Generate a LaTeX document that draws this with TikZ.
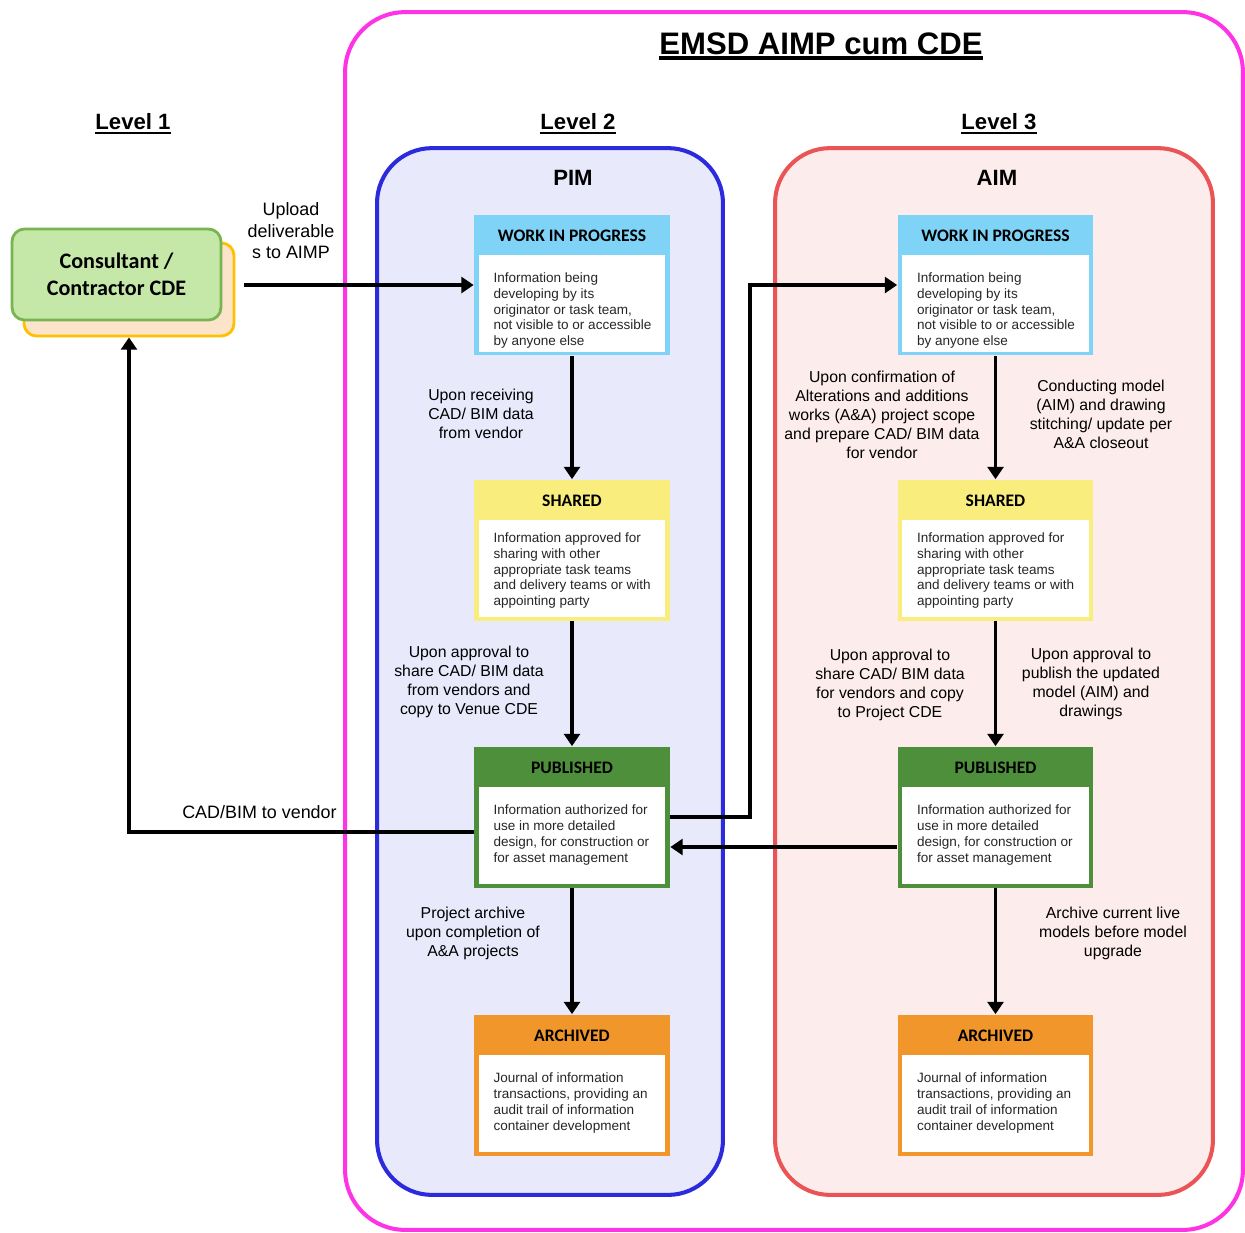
\documentclass[tikz,border=0pt]{standalone}
\usepackage{fontspec}
\setmainfont{Liberation Sans}
\newfontfamily\calibri{Carlito}
\usetikzlibrary{arrows.meta}

\definecolor{aimpline}{RGB}{255,51,230}
\definecolor{pimline}{RGB}{43,43,221}
\definecolor{pimfill}{RGB}{232,234,252}
\definecolor{aimline}{RGB}{234,84,85}
\definecolor{aimfill}{RGB}{253,236,236}
\definecolor{wipc}{RGB}{126,211,247}
\definecolor{sharedc}{RGB}{249,238,125}
\definecolor{pubc}{RGB}{78,143,60}
\definecolor{archc}{RGB}{240,150,42}
\definecolor{cdefill}{RGB}{197,232,168}
\definecolor{cdeline}{RGB}{120,180,80}
\definecolor{backfill}{RGB}{252,228,202}
\definecolor{backline}{RGB}{255,192,0}

\newcommand{\undertitle}[3]{\setbox0=\hbox{#1}\rlap{\copy0}\rule[-#2]{\wd0}{#3}}
\newcommand{\wiptext}{Information being\\developing by its\\originator or task team,\\not visible to or accessible\\by anyone else}
\newcommand{\sharedtext}{Information approved for\\sharing with other\\appropriate task teams\\and delivery teams or with\\appointing party}
\newcommand{\pubtext}{Information authorized for\\use in more detailed\\design, for construction or\\for asset management}
\newcommand{\archtext}{Journal of information\\transactions, providing an\\audit trail of information\\container development}

\begin{document}
\begin{tikzpicture}[x=0.02cm,y=-0.02cm,
    zone/.style={line width=2.3pt,rounded corners=1.1cm,inner sep=0pt},
    stage/.style={minimum width=3.92cm,minimum height=2.82cm,inner sep=0pt},
    stagebody/.style={fill=white,minimum width=3.74cm,minimum height=1.94cm,inner sep=0pt},
    stagetitle/.style={font=\calibri\bfseries\fontsize{10}{12}\selectfont},
    stagetext/.style={anchor=west,align=left,inner sep=0pt,text=black!85,font=\fontsize{7.7}{9.1}\selectfont},
    note/.style={align=center,inner sep=0pt,font=\fontsize{9}{10.8}\selectfont},
    bignote/.style={align=center,inner sep=0pt,font=\fontsize{10.2}{12.2}\selectfont},
    level/.style={font=\bfseries\fontsize{12.6}{14}\selectfont},
    flow/.style={line width=2.2pt,-{Triangle[width=9pt,length=7pt]}}]
    \useasboundingbox (0,0) rectangle (1245,1232);

    \node[zone,draw=aimpline,rounded corners=1.2cm,minimum width=17.96cm,minimum height=24.36cm] (aimp) at (794,621) {};
    \node[zone,draw=pimline,fill=pimfill,minimum width=6.92cm,minimum height=20.94cm] (pim) at (550,671.5) {};
    \node[zone,draw=aimline,fill=aimfill,minimum width=8.76cm,minimum height=20.94cm] (aim) at (994,671.5) {};

    \node[font=\bfseries\fontsize{17.7}{20}\selectfont] (title) at (821,46) {\undertitle{EMSD AIMP cum CDE}{3pt}{1.8pt}};
    \node[level] (lv1) at (133,124) {\undertitle{Level 1}{2.5pt}{1.3pt}};
    \node[level] (lv2) at (578,124) {\undertitle{Level 2}{2.5pt}{1.3pt}};
    \node[level] (lv3) at (999,124) {\undertitle{Level 3}{2.5pt}{1.3pt}};
    \node[level] (pimt) at (573,178) {PIM};
    \node[level] (aimt) at (997,178) {AIM};

    \node[draw=backline,fill=backfill,line width=1.6pt,rounded corners=0.25cm,minimum width=4.2cm,minimum height=1.86cm] (cb) at (129,289.5) {};
    \node[draw=cdeline,fill=cdefill,line width=1.6pt,rounded corners=0.25cm,minimum width=4.18cm,minimum height=1.82cm,align=center,
        font=\calibri\bfseries\fontsize{12.6}{15.4}\selectfont] (cde) at (116.5,274.5) {Consultant /\\Contractor CDE};

    % PIM column
    \node[stage,fill=wipc] (pw) at (572,285) {};
    \node[stagetitle] (pwh) at (572,236) {WORK IN PROGRESS};
    \node[stagebody] (pwb) at (572,303) {};
    \node[stagetext] (pwt) at ([xshift=0.3cm,yshift=-0.15cm]pwb.west) {\wiptext};

    \node[stage,fill=sharedc] (ps) at (572,550) {};
    \node[stagetitle] (psh) at (572,501) {SHARED};
    \node[stagebody] (psb) at (572,568) {};
    \node[stagetext] (pst) at ([xshift=0.3cm,yshift=-0.05cm]psb.west) {\sharedtext};

    \node[stage,fill=pubc] (pp) at (572,817) {};
    \node[stagetitle] (pph) at (572,768) {PUBLISHED};
    \node[stagebody] (ppb) at (572,835) {};
    \node[stagetext] (ppt) at ([xshift=0.3cm]ppb.west) {\pubtext};

    \node[stage,fill=archc] (pa) at (572,1085) {};
    \node[stagetitle] (pah) at (572,1036) {ARCHIVED};
    \node[stagebody] (pab) at (572,1103) {};
    \node[stagetext] (pat) at ([xshift=0.3cm]pab.west) {\archtext};

    % AIM column
    \node[stage,fill=wipc] (aw) at (995.5,285) {};
    \node[stagetitle] (awh) at (995.5,236) {WORK IN PROGRESS};
    \node[stagebody] (awb) at (995.5,303) {};
    \node[stagetext] (awt) at ([xshift=0.3cm,yshift=-0.15cm]awb.west) {\wiptext};

    \node[stage,fill=sharedc] (as) at (995.5,550) {};
    \node[stagetitle] (ash) at (995.5,501) {SHARED};
    \node[stagebody] (asb) at (995.5,568) {};
    \node[stagetext] (ast) at ([xshift=0.3cm,yshift=-0.05cm]asb.west) {\sharedtext};

    \node[stage,fill=pubc] (ap) at (995.5,817) {};
    \node[stagetitle] (aph) at (995.5,768) {PUBLISHED};
    \node[stagebody] (apb) at (995.5,835) {};
    \node[stagetext] (apt) at ([xshift=0.3cm]apb.west) {\pubtext};

    \node[stage,fill=archc] (aa) at (995.5,1085) {};
    \node[stagetitle] (aah) at (995.5,1036) {ARCHIVED};
    \node[stagebody] (aab) at (995.5,1103) {};
    \node[stagetext] (aat) at ([xshift=0.3cm]aab.west) {\archtext};

    \coordinate (up) at (244,285);
    \coordinate (bend) at (750,500);

    \draw[flow] (up) -- (pw.west);
    \draw[flow] (pw.south) -- (ps.north);
    \draw[flow] (ps.south) -- (pp.north);
    \draw[flow] (pp.south) -- (pa.north);
    \draw[flow] (aw.south) -- (as.north);
    \draw[flow] (as.south) -- (ap.north);
    \draw[flow] (ap.south) -- (aa.north);
    \draw[flow] (pp.east) -- (pp.east -| bend) -- (bend |- aw.west) -- (aw.west);
    \draw[flow] ([yshift=-0.6cm]ap.west) -- ([yshift=-0.6cm]pp.east);
    \draw[flow] ([yshift=-0.3cm]pp.west) -| (cb.south);

    \node[bignote] (n1) at (291,231) {Upload\\deliverable\\s to AIMP};
    \node[note] (n2) at (481,414) {Upon receiving\\CAD/ BIM data\\from vendor};
    \node[note] (n3) at (882,414.5) {Upon confirmation of\\Alterations and additions\\works (A\&A) project scope\\and prepare CAD/ BIM data\\for vendor};
    \node[note] (n4) at (1101,414.5) {Conducting model\\(AIM) and drawing\\stitching/ update per\\A\&A closeout};
    \node[note] (n5) at (469,681.5) {Upon approval to\\share CAD/ BIM data\\from vendors and\\copy to Venue CDE};
    \node[note] (n6) at (890,684.5) {Upon approval to\\share CAD/ BIM data\\for vendors and copy\\to Project CDE};
    \node[note] (n7) at (1091,683.5) {Upon approval to\\publish the updated\\model (AIM) and\\drawings};
    \node[bignote,anchor=east] (n8) at (337,812) {CAD/BIM to vendor};
    \node[note] (n9) at (473,933.5) {Project archive\\upon completion of\\A\&A projects};
    \node[note] (n10) at (1113,933.5) {Archive current live\\models before model\\upgrade};
\end{tikzpicture}
\end{document}
